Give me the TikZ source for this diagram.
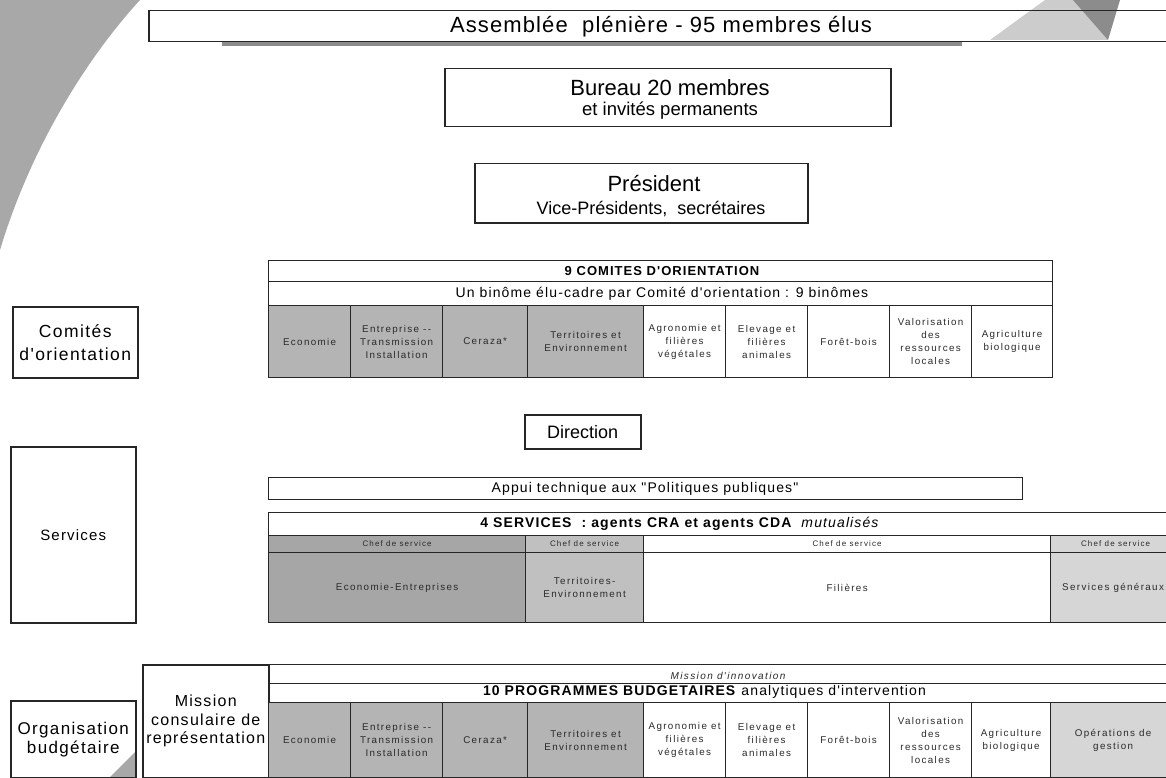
\documentclass[tikz,border=0pt]{standalone}
\usepackage{fontspec}
\setmainfont{Liberation Sans}
\newfontfamily\widefont[LetterSpace=8]{Liberation Sans}
\newfontfamily\cellfont[LetterSpace=14]{Liberation Sans}
\newfontfamily\titlefont[LetterSpace=5]{Liberation Sans}
\definecolor{swoosh}{HTML}{A8A8A8}
\definecolor{cgrey}{HTML}{B4B4B4}
\definecolor{sgreyA}{HTML}{A6A6A6}
\definecolor{sgreyB}{HTML}{C0C0C0}
\definecolor{sgreyC}{HTML}{D6D6D6}
\definecolor{celltext}{HTML}{2A2A2A}
\begin{document}
\begin{tikzpicture}[x=1pt,y=-1pt,
  frame/.style={draw=black!85, line width=1.5pt, anchor=north west, inner sep=0pt, align=center},
  cell/.style={draw=black!85, line width=1.2pt, anchor=north west, inner sep=0pt, align=center,
    font=\cellfont\fontsize{9.8}{13}\selectfont, text=celltext},
  chef/.style={cell, font=\cellfont\fontsize{8}{9}\selectfont},
  tablerow/.style={draw=black!85, line width=1.2pt, anchor=north west, inner sep=0pt},
  txt/.style={inner sep=0pt, align=center}
]
\useasboundingbox (0,0) rectangle (1166,778);
\clip (0,0) rectangle (1166,778);
\fill[white] (0,0) rectangle (1166,778);

% decorative swoosh and logo
\fill[swoosh] (0,0) -- (140,0) .. controls (85,60) and (30,150) .. (0,250) -- cycle;
\fill[black!20] (990,40) -- (1045,0) -- (1080,0) -- (1108,40) -- cycle;
\fill[black!45] (1073,0) -- (1120,0) -- (1108,40) -- cycle;

% Assemblee
\fill[black!45] (222,41) rectangle (962,46);
\node[frame, minimum width=1030pt, minimum height=31pt] (assemblee) at (148,10) {};
\node[txt, font=\titlefont\fontsize{22}{24}\selectfont] (assembleeT) at (661,27) {Assemblée\ \ plénière - 95 membres élus};

% Bureau
\node[frame, minimum width=446pt, minimum height=58pt] (bureau) at (444,68) {};
\node[txt, font=\fontsize{22}{24}\selectfont] (bureauA) at (670,88) {Bureau 20 membres};
\node[txt, font=\fontsize{18.5}{20}\selectfont] (bureauB) at (670,111) {et invités permanents};

% President
\node[frame, minimum width=333pt, minimum height=59pt] (president) at (474,163) {};
\node[txt, font=\fontsize{22}{24}\selectfont] (presA) at (654,184) {Président};
\node[txt, font=\fontsize{18}{20}\selectfont] (presB) at (651,209) {Vice-Présidents,\ \ secrétaires};

% left labels
\node[frame, minimum width=125pt, minimum height=71pt, font=\widefont\fontsize{17.5}{23}\selectfont] (lcomites) at (12,306) {Comités\\d'orientation};
\node[frame, minimum width=125pt, minimum height=176pt, font=\widefont\fontsize{15}{18}\selectfont] (lservices) at (10,446) {Services};
\fill[swoosh] (110,777) -- (135,752) -- (135,777) -- cycle;
\node[frame, minimum width=125pt, minimum height=77pt, font=\widefont\fontsize{17}{19}\selectfont] (lorga) at (10,700) {Organisation\\budgétaire};

% Comites table
\node[tablerow, minimum width=784pt, minimum height=21pt] (crow1) at (268,260) {};
\node[txt, font=\widefont\bfseries\fontsize{13}{15}\selectfont] (crow1T) at (662,271) {9 COMITES D'ORIENTATION};
\node[tablerow, minimum width=784pt, minimum height=24pt] (crow2) at (268,281) {};
\node[txt, font=\widefont\fontsize{14}{16}\selectfont] (crow2T) at (662,294) {Un binôme élu-cadre par Comité d'orientation : 9 binômes};
\node[cell, fill=cgrey, minimum width=82pt, minimum height=72pt] (c1) at (268,305) {Economie};
\node[cell, fill=cgrey, minimum width=92pt, minimum height=72pt] (c2) at (350,305) {Entreprise --\\Transmission\\Installation};
\node[cell, fill=cgrey, minimum width=85pt, minimum height=72pt] (c3) at (442,305) {Ceraza*};
\node[cell, fill=cgrey, minimum width=116pt, minimum height=72pt] (c4) at (527,305) {Territoires et\\Environnement};
\node[cell, minimum width=82pt, minimum height=72pt] (c5) at (643,305) {Agronomie et\\filières\\végétales};
\node[cell, minimum width=82pt, minimum height=72pt] (c6) at (725,305) {Elevage et\\filières\\animales};
\node[cell, minimum width=82pt, minimum height=72pt] (c7) at (807,305) {Forêt-bois};
\node[cell, minimum width=82pt, minimum height=72pt] (c8) at (889,305) {Valorisation\\des\\ressources\\locales};
\node[cell, minimum width=81pt, minimum height=72pt] (c9) at (971,305) {Agriculture\\biologique};

% Direction
\node[frame, minimum width=116pt, minimum height=34pt, font=\fontsize{18}{20}\selectfont] (direction) at (524,414) {Direction};

% Appui
\node[tablerow, minimum width=754pt, minimum height=22pt] (appui) at (268,477) {};
\node[txt, font=\widefont\fontsize{14}{16}\selectfont] (appuiT) at (645,489) {Appui technique aux "Politiques publiques"};

% Services table
\node[tablerow, minimum width=910pt, minimum height=23pt] (srow1) at (268,512) {};
\node[txt, font=\widefont\bfseries\fontsize{14}{16}\selectfont] (srow1T) at (680,524) {4 SERVICES\ \ : agents CRA et agents CDA\ \ \textmd{\itshape mutualisés}};
\node[chef, fill=sgreyA, minimum width=257pt, minimum height=17pt] (s1h) at (268,535) {Chef de service};
\node[chef, fill=sgreyB, minimum width=118pt, minimum height=17pt] (s2h) at (525,535) {Chef de service};
\node[chef, minimum width=407pt, minimum height=17pt] (s3h) at (643,535) {Chef de service};
\node[chef, fill=sgreyC, minimum width=130pt, minimum height=17pt] (s4h) at (1050,535) {Chef de service};
\node[cell, fill=sgreyA, minimum width=257pt, minimum height=70pt] (s1) at (268,552) {Economie-Entreprises};
\node[cell, fill=sgreyB, minimum width=118pt, minimum height=70pt] (s2) at (525,552) {Territoires-\\Environnement};
\node[cell, minimum width=407pt, minimum height=70pt] (s3) at (643,552) {Filières};
\node[cell, fill=sgreyC, minimum width=125pt, minimum height=70pt] (s4) at (1050,552) {Services généraux};

% Budget table
\node[frame, minimum width=126pt, minimum height=113pt, font=\widefont\fontsize{16}{18.5}\selectfont] (mission) at (142,664) {Mission\\consulaire de\\représentation};
\node[tablerow, minimum width=910pt, minimum height=19pt] (brow1) at (268,664) {};
\node[txt, font=\cellfont\itshape\fontsize{10}{11}\selectfont, text=celltext] (brow1T) at (728,676) {Mission d'innovation};
\node[tablerow, minimum width=910pt, minimum height=19pt] (brow2) at (268,683) {};
\node[txt, font=\widefont\bfseries\fontsize{14}{16}\selectfont] (brow2T) at (705,692) {10 PROGRAMMES BUDGETAIRES\ \textmd{analytiques d'intervention}};
\node[cell, fill=cgrey, minimum width=82pt, minimum height=75pt] (b1) at (268,702) {Economie};
\node[cell, fill=cgrey, minimum width=92pt, minimum height=75pt] (b2) at (350,702) {Entreprise --\\Transmission\\Installation};
\node[cell, fill=cgrey, minimum width=85pt, minimum height=75pt] (b3) at (442,702) {Ceraza*};
\node[cell, fill=cgrey, minimum width=116pt, minimum height=75pt] (b4) at (527,702) {Territoires et\\Environnement};
\node[cell, minimum width=82pt, minimum height=75pt] (b5) at (643,702) {Agronomie et\\filières\\végétales};
\node[cell, minimum width=82pt, minimum height=75pt] (b6) at (725,702) {Elevage et\\filières\\animales};
\node[cell, minimum width=82pt, minimum height=75pt] (b7) at (807,702) {Forêt-bois};
\node[cell, minimum width=82pt, minimum height=75pt] (b8) at (889,702) {Valorisation\\des\\ressources\\locales};
\node[cell, minimum width=79pt, minimum height=75pt] (b9) at (971,702) {Agriculture\\biologique};
\node[cell, fill=sgreyC, minimum width=125pt, minimum height=75pt] (b10) at (1050,702) {Opérations de\\gestion};
\end{tikzpicture}
\end{document}
